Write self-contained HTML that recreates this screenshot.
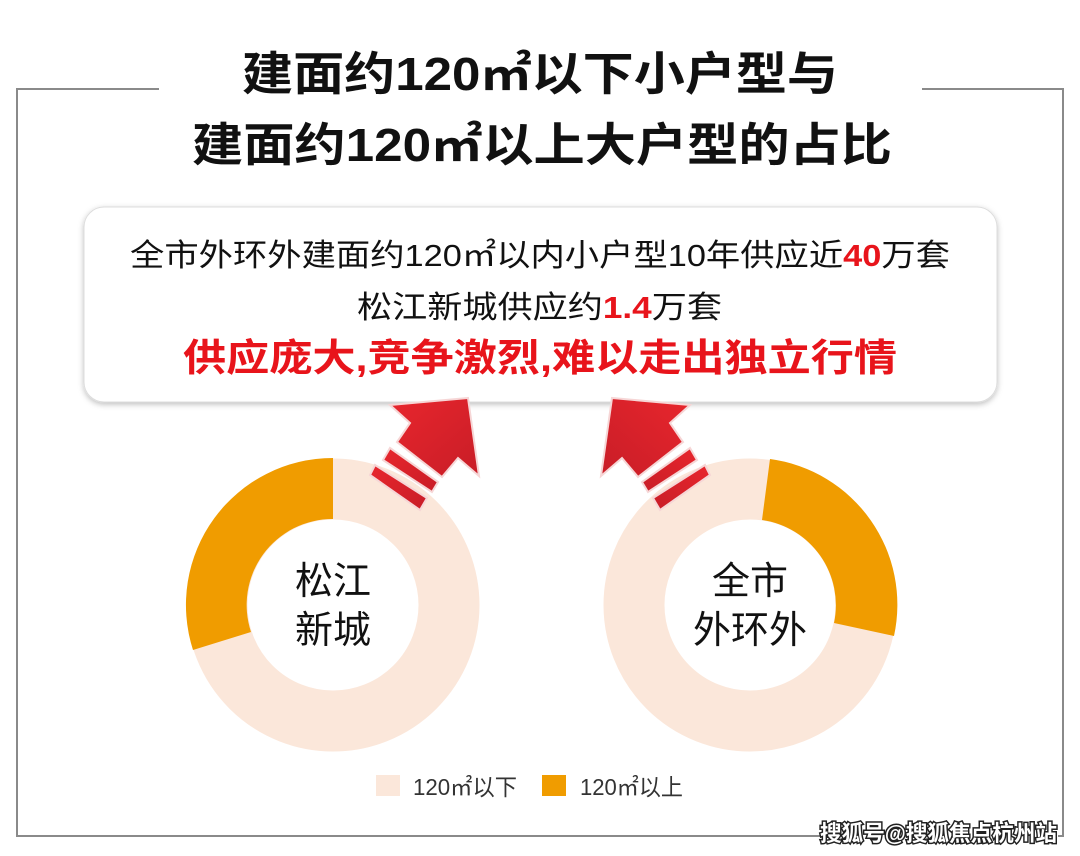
<!DOCTYPE html>
<html><head><meta charset="utf-8"><style>
html,body{margin:0;padding:0;background:#fff;}
svg{display:block;}
text{font-family:"Liberation Sans","Noto Sans CJK SC",sans-serif;}
</style></head><body>
<svg width="1080" height="856" viewBox="0 0 1080 856" xmlns="http://www.w3.org/2000/svg">
<defs>
<filter id="sh" x="-5%" y="-10%" width="110%" height="130%">
<feDropShadow dx="0" dy="2" stdDeviation="3" flood-color="#000" flood-opacity="0.25"/>
</filter>
<linearGradient id="ag" x1="0" y1="0" x2="1" y2="1">
<stop offset="0" stop-color="#e8262d"/><stop offset="1" stop-color="#c81d27"/>
</linearGradient>
</defs>
<!-- frame -->
<g stroke="#8a8a8a" stroke-width="2" fill="none">
<polyline points="159,89 17,89 17,836 820,836"/>
<polyline points="922,89 1063,89 1063,836 1058,836"/>
</g>
<!-- title -->
<text x="540" y="90" text-anchor="middle" font-size="46" font-weight="bold" fill="#111" textLength="596" lengthAdjust="spacingAndGlyphs">建面约120㎡以下小户型与</text>
<text x="542" y="161" text-anchor="middle" font-size="46" font-weight="bold" fill="#111" textLength="700" lengthAdjust="spacingAndGlyphs">建面约120㎡以上大户型的占比</text>
<!-- box -->
<rect x="84" y="207" width="913" height="195" rx="20" fill="#fff" stroke="#ddd" stroke-width="1" filter="url(#sh)"/>
<text x="130" y="266" font-size="31" fill="#111" textLength="820" lengthAdjust="spacingAndGlyphs">全市外环外建面约120㎡以内小户型10年供应近<tspan fill="#e8141b" font-weight="bold">40</tspan>万套</text>
<text x="357" y="318" font-size="31" fill="#111" textLength="365" lengthAdjust="spacingAndGlyphs">松江新城供应约<tspan fill="#e8141b" font-weight="bold">1.4</tspan>万套</text>
<text x="183" y="371" font-size="38" font-weight="bold" fill="#e8141b" textLength="714" lengthAdjust="spacingAndGlyphs">供应庞大,竞争激烈,难以走出独立行情</text>
<!-- donuts -->
<g transform="translate(333,605)">
<circle r="116" fill="none" stroke="#fbe7da" stroke-width="61"/>
<path d="M0,-147 A147,147 0 0 0 -140,45 L-82,27 A86,86 0 0 1 0,-86 Z" fill="#f09c00"/>
</g>
<g transform="translate(750,605)">
<circle r="116" fill="none" stroke="#fbe7da" stroke-width="61"/>
<path d="M20,-146 A147,147 0 0 1 144,31 L84,18 A86,86 0 0 0 12,-85 Z" fill="#f09c00"/>
</g>
<text x="333" y="594" text-anchor="middle" font-size="38" fill="#111">松江</text>
<text x="333" y="643" text-anchor="middle" font-size="38" fill="#111">新城</text>
<text x="750" y="594" text-anchor="middle" font-size="38" fill="#111">全市</text>
<text x="750" y="643" text-anchor="middle" font-size="38" fill="#111">外环外</text>
<!-- arrows -->
<g id="arr" fill="url(#ag)" stroke="#f6d6d6" stroke-width="2" stroke-linejoin="miter">
<polygon points="468,398 479,476 458,458 442,477 397,442 410,423 390,405"/>
<polygon points="390,448 383,460 432,492 438,482"/>
<polygon points="375,465 370,475 420,510 427,498"/>
</g>
<g transform="translate(1080,0) scale(-1,1)" fill="url(#ag)" stroke="#f6d6d6" stroke-width="2">
<polygon points="468,398 479,476 458,458 442,477 397,442 410,423 390,405"/>
<polygon points="390,448 383,460 432,492 438,482"/>
<polygon points="375,465 370,475 420,510 427,498"/>
</g>
<!-- legend -->
<rect x="376" y="775" width="24" height="21" fill="#fbe7da"/>
<text x="413" y="795" font-size="23" fill="#333" textLength="104" lengthAdjust="spacingAndGlyphs">120㎡以下</text>
<rect x="542" y="775" width="24" height="21" fill="#f09c00"/>
<text x="580" y="795" font-size="23" fill="#333" textLength="103" lengthAdjust="spacingAndGlyphs">120㎡以上</text>
<!-- watermark -->
<text x="820" y="841" font-size="22" font-weight="bold" fill="#fff" stroke="#222" stroke-width="3" paint-order="stroke" textLength="237" lengthAdjust="spacingAndGlyphs">搜狐号@搜狐焦点杭州站</text>
</svg>
</body></html>
